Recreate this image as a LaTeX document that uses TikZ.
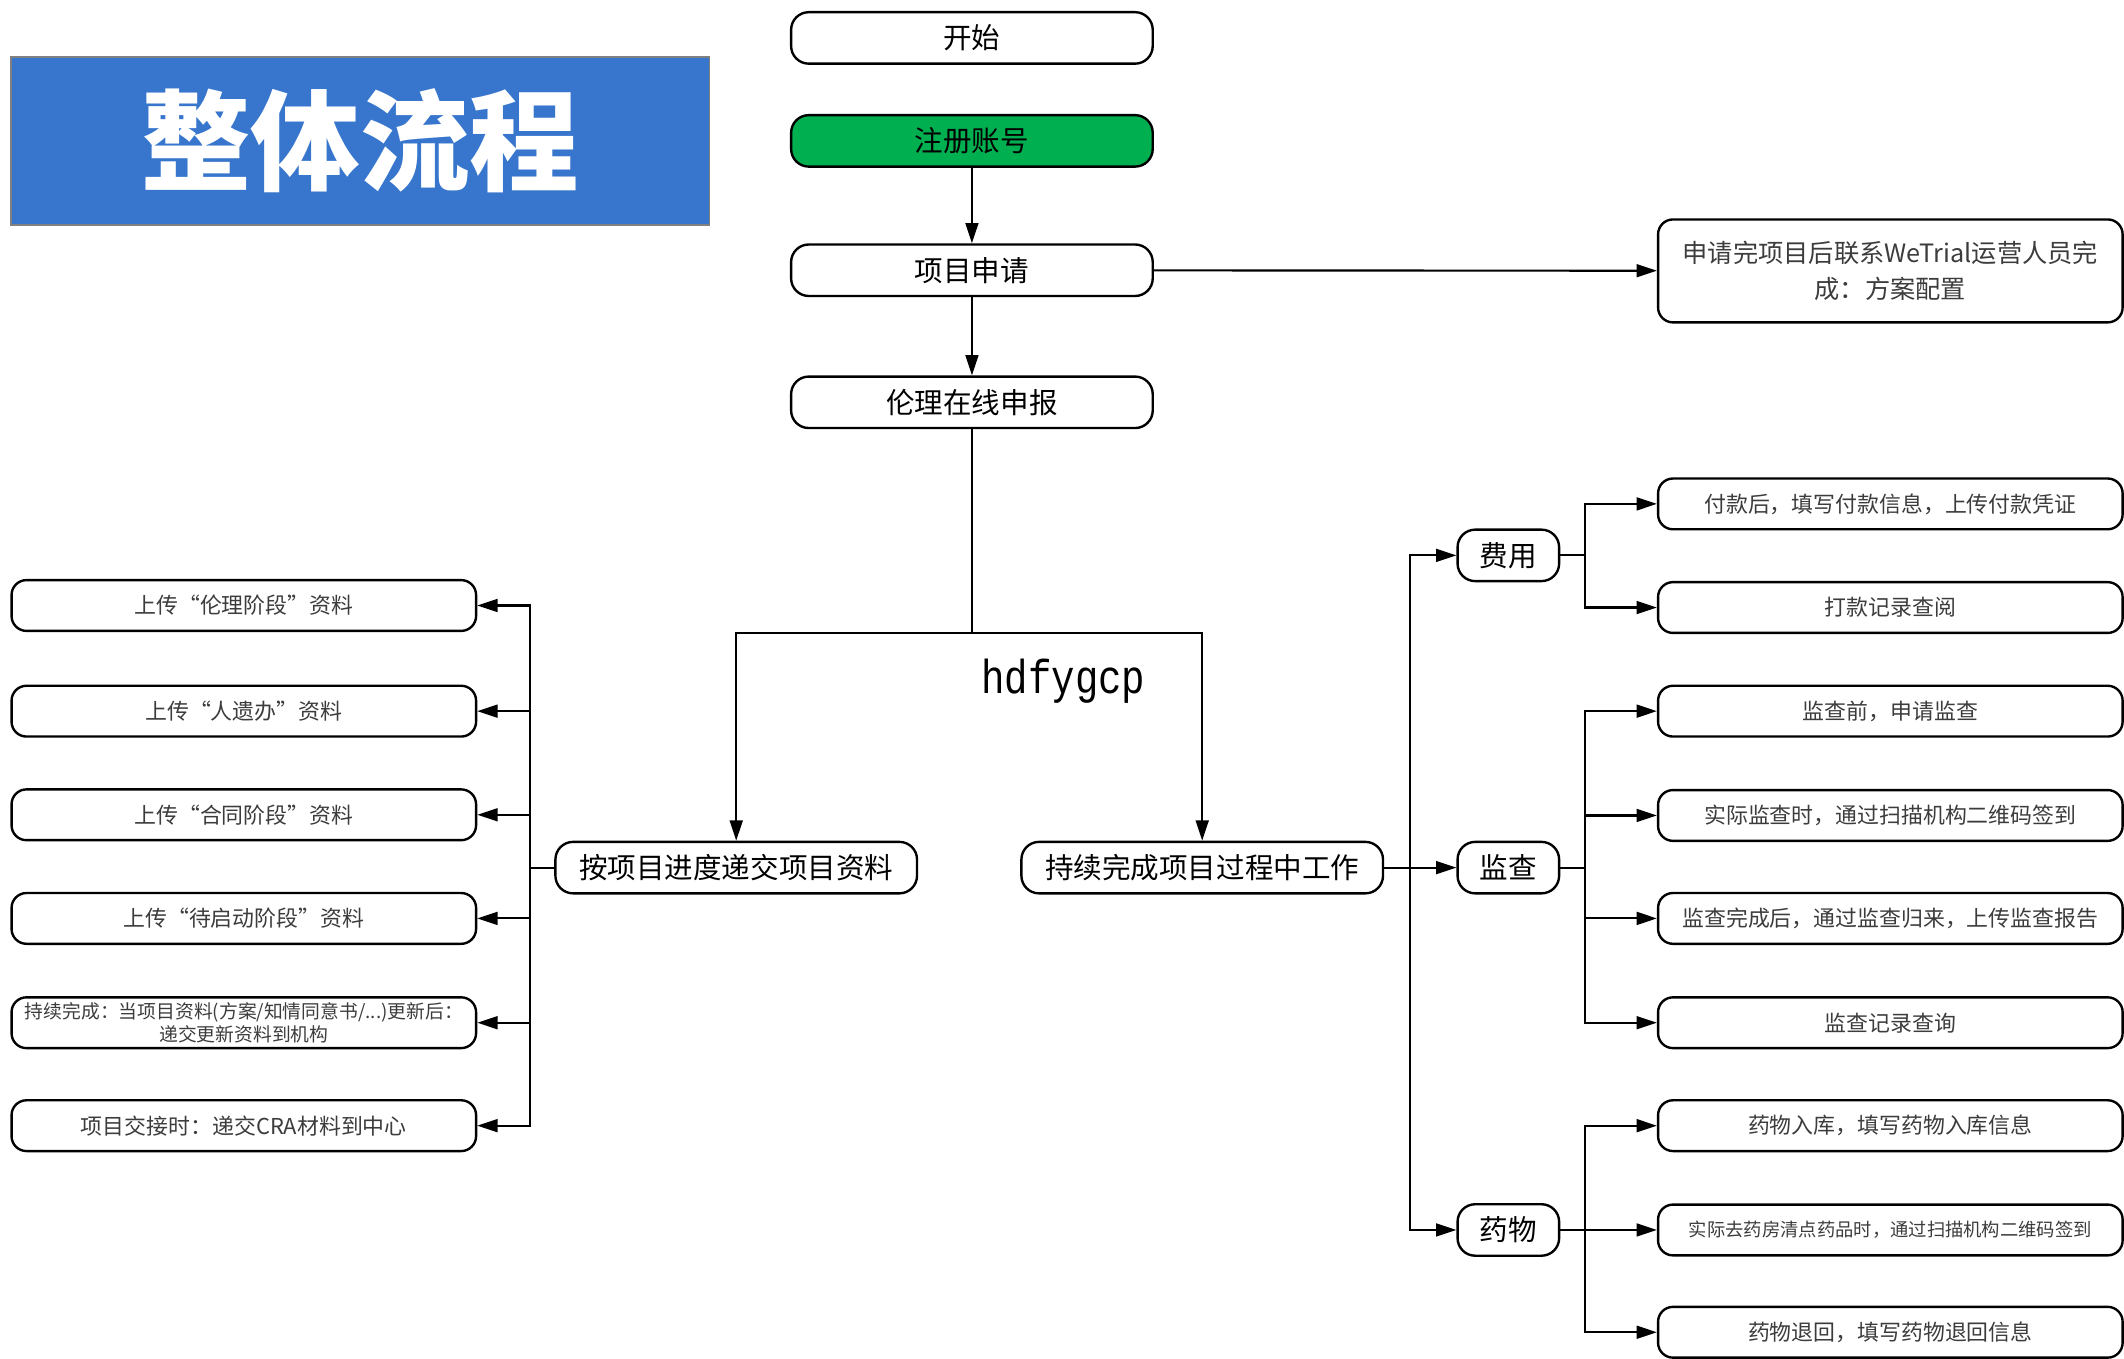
\documentclass[tikz,border=0pt]{standalone}
\usepackage{fontspec}
\usepackage{graphicx}
\setmainfont{Noto Sans CJK SC}
\newfontfamily\markfont{Liberation Mono}
\usepackage{tikz}
\usetikzlibrary{arrows.meta,positioning}

\definecolor{titleblue}{RGB}{55,118,204}
\definecolor{reggreen}{RGB}{0,176,80}
\definecolor{infotext}{RGB}{60,60,60}

\begin{document}
\begin{tikzpicture}[x=0.02cm,y=-0.02cm,
  >={Triangle[length=0.3cm,width=0.19cm]},
  line width=0.9pt,
  main node/.style={draw,line width=1pt,rounded corners=0.26cm,minimum width=5.34cm,minimum height=0.76cm,inner sep=0pt,font=\fontsize{12}{14}\selectfont},
  side node/.style={main node,minimum width=1.5cm},
  info node/.style={draw,line width=1pt,rounded corners=0.22cm,minimum width=6.86cm,minimum height=0.75cm,inner sep=0pt,align=center,text=infotext,font=\fontsize{9.2}{11}\selectfont}]

\useasboundingbox (0,0) rectangle (1568,1003);

% title
\node[fill=titleblue,draw=gray,line width=0.6pt,minimum width=10.32cm,minimum height=2.48cm,inner sep=0pt,
  text=white,font=\fontsize{46}{50}\selectfont\bfseries] (title) at (266,104) {整体流程};

% main column
\node[main node] (start) at (717.5,28) {开始};
\node[main node,fill=reggreen] (reg) at (717.5,104) {注册账号};
\node[main node] (apply) at (717.5,199.5) {项目申请};
\node[main node] (ethic) at (717.5,297) {伦理在线申报};
\node[info node,minimum height=1.52cm,font=\fontsize{10.6}{15}\selectfont] (config) at (1395.5,200)
  {申请完项目后联系WeTrial运营人员完\\成：方案配置};

\node[main node] (submit) at (543.5,640.5) {按项目进度递交项目资料};
\node[main node] (work) at (887.5,640.5) {持续完成项目过程中工作};
\node[font=\markfont\fontsize{20}{22}\selectfont] (mark) at (785,503) {\scalebox{0.82}[1]{hdfygcp}};

% left column
\node[info node] (up1) at (180,447) {上传“伦理阶段”资料};
\node[info node] (up2) at (180,525) {上传“人遗办”资料};
\node[info node] (up3) at (180,601.5) {上传“合同阶段”资料};
\node[info node] (up4) at (180,678) {上传“待启动阶段”资料};
\node[info node,font=\fontsize{7.9}{9.5}\selectfont] (up5) at (180,755) {持续完成：当项目资料(方案/知情同意书/...)更新后：\\递交更新资料到机构};
\node[info node] (up6) at (180,831) {项目交接时：递交CRA材料到中心};

% right column
\node[side node] (fee) at (1113.5,410) {费用};
\node[side node] (check) at (1113.5,640.5) {监查};
\node[side node] (drug) at (1113.5,908) {药物};

\node[info node] (fee1) at (1395.5,372) {付款后，填写付款信息，上传付款凭证};
\node[info node] (fee2) at (1395.5,448.5) {打款记录查阅};
\node[info node] (chk1) at (1395.5,525) {监查前，申请监查};
\node[info node] (chk2) at (1395.5,602) {实际监查时，通过扫描机构二维码签到};
\node[info node] (chk3) at (1395.5,678) {监查完成后，通过监查归来，上传监查报告};
\node[info node] (chk4) at (1395.5,755) {监查记录查询};
\node[info node] (drg1) at (1395.5,831) {药物入库，填写药物入库信息};
\node[info node,font=\fontsize{7.7}{10}\selectfont] (drg2) at (1395.5,908) {实际去药房清点药品时，通过扫描机构二维码签到};
\node[info node] (drg3) at (1395.5,983.5) {药物退回，填写药物退回信息};

% connectors
\draw[->] (reg) -- (apply);
\draw[->] (apply) -- (ethic);
\draw[->] (apply) -- (config);

\coordinate (split) at (717.5,467);
\draw (ethic) -- (split);
\draw[->] (split) -| (submit);
\draw[->] (split) -| (work);

\coordinate (ltrunk) at (391,640.5);
\draw (submit) -- (ltrunk);
\foreach \n in {up1,up2,up3,up4,up5,up6}
  \draw[->] (ltrunk) |- (\n);

\coordinate (rtrunk) at (1041,640.5);
\draw (work) -- (rtrunk);
\foreach \n in {fee,check,drug}
  \draw[->] (rtrunk) |- (\n);

\coordinate (feej) at (1170,410);
\draw (fee) -- (feej);
\foreach \n in {fee1,fee2}
  \draw[->] (feej) |- (\n);

\coordinate (chkj) at (1170,640.5);
\draw (check) -- (chkj);
\foreach \n in {chk1,chk2,chk3,chk4}
  \draw[->] (chkj) |- (\n);

\coordinate (drgj) at (1170,908);
\draw (drug) -- (drgj);
\foreach \n in {drg1,drg2,drg3}
  \draw[->] (drgj) |- (\n);

\end{tikzpicture}
\end{document}
